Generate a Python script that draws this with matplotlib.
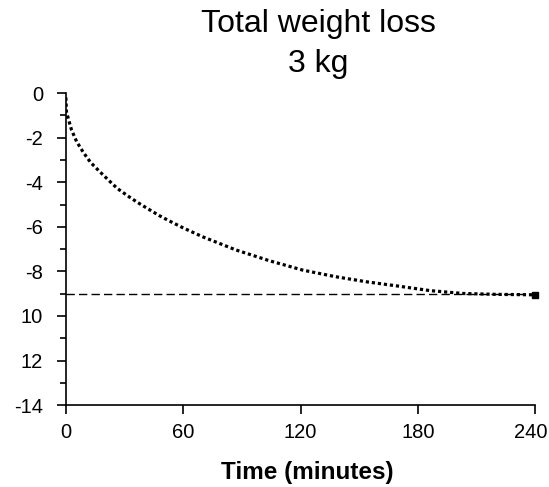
import matplotlib
matplotlib.use("Agg")
import matplotlib.pyplot as plt
from matplotlib.ticker import MultipleLocator
from matplotlib.transforms import ScaledTranslation

plt.rcParams['font.family'] = ['Liberation Sans', 'DejaVu Sans']

# curve (minutes, value)
time_min = [0, 0.3, 1.2, 2.9, 5.5, 8.9, 12.6, 17, 21.7, 26.3, 31.4, 36.5,
            42.1, 47.8, 53.2, 60, 70, 87, 104, 121, 138, 154, 170, 186,
            203, 220, 240]
loss = [-0.2, -0.84, -1.14, -1.66, -2.18, -2.66, -3.11, -3.5, -3.9, -4.28,
        -4.6, -4.9, -5.2, -5.5, -5.75, -6.05, -6.45, -7.04, -7.52, -7.94,
        -8.24, -8.47, -8.66, -8.86, -8.99, -9.03, -9.05]
target = -9
x_ticks = [0, 60, 120, 180, 240]
y_ticks = [0, -2, -4, -6, -8, -10, -12, -14]
y_labels = ["0", "-2", "-4", "-6", "-8", "10", "12", "-14"]

fig = plt.figure(figsize=(5.49, 4.87), dpi=100)
ax = fig.add_axes([0.120, 0.168, 0.855, 0.641])

ax.axhline(target, color='black', lw=1.0, ls=(0, (6, 3)))
ax.plot(time_min, loss, color='black', lw=2.3, ls=(0, (1.0, 0.9)))
ax.plot(time_min[-1], loss[-1], marker='s', ms=5, color='black', clip_on=False)

ax.set_xlim(0, 240)
ax.set_ylim(-14, 0)
ax.set_xticks(x_ticks)
ax.set_yticks(y_ticks)
ax.set_yticklabels(y_labels)
ax.yaxis.set_minor_locator(MultipleLocator(1))

for s in ['top', 'right']:
    ax.spines[s].set_visible(False)
for s in ['left', 'bottom']:
    ax.spines[s].set_linewidth(1.2)

ax.tick_params(axis='both', which='major', length=6.5, width=1.2,
               labelsize=14.5, direction='out')
ax.tick_params(axis='y', which='major', pad=10)
ax.tick_params(axis='x', which='major', pad=6)
ax.tick_params(axis='y', which='minor', length=4, width=1.2)

# last x label sits a little to the left so it stays inside the picture
last = ax.get_xticklabels()[-1]
last.set_transform(last.get_transform() + ScaledTranslation(-5 / 100, 0, fig.dpi_scale_trans))

ax.set_xlabel("Time (minutes)", fontsize=17.5, fontweight='bold')
ax.xaxis.set_label_coords((307 - 66) / 469, -0.18)

fig.text(318 / 549, 1 - 9 / 487, "Total weight loss\n3 kg", fontsize=23,
         ha='center', va='top', linespacing=1.45)

fig.savefig("out.png", dpi=100)
